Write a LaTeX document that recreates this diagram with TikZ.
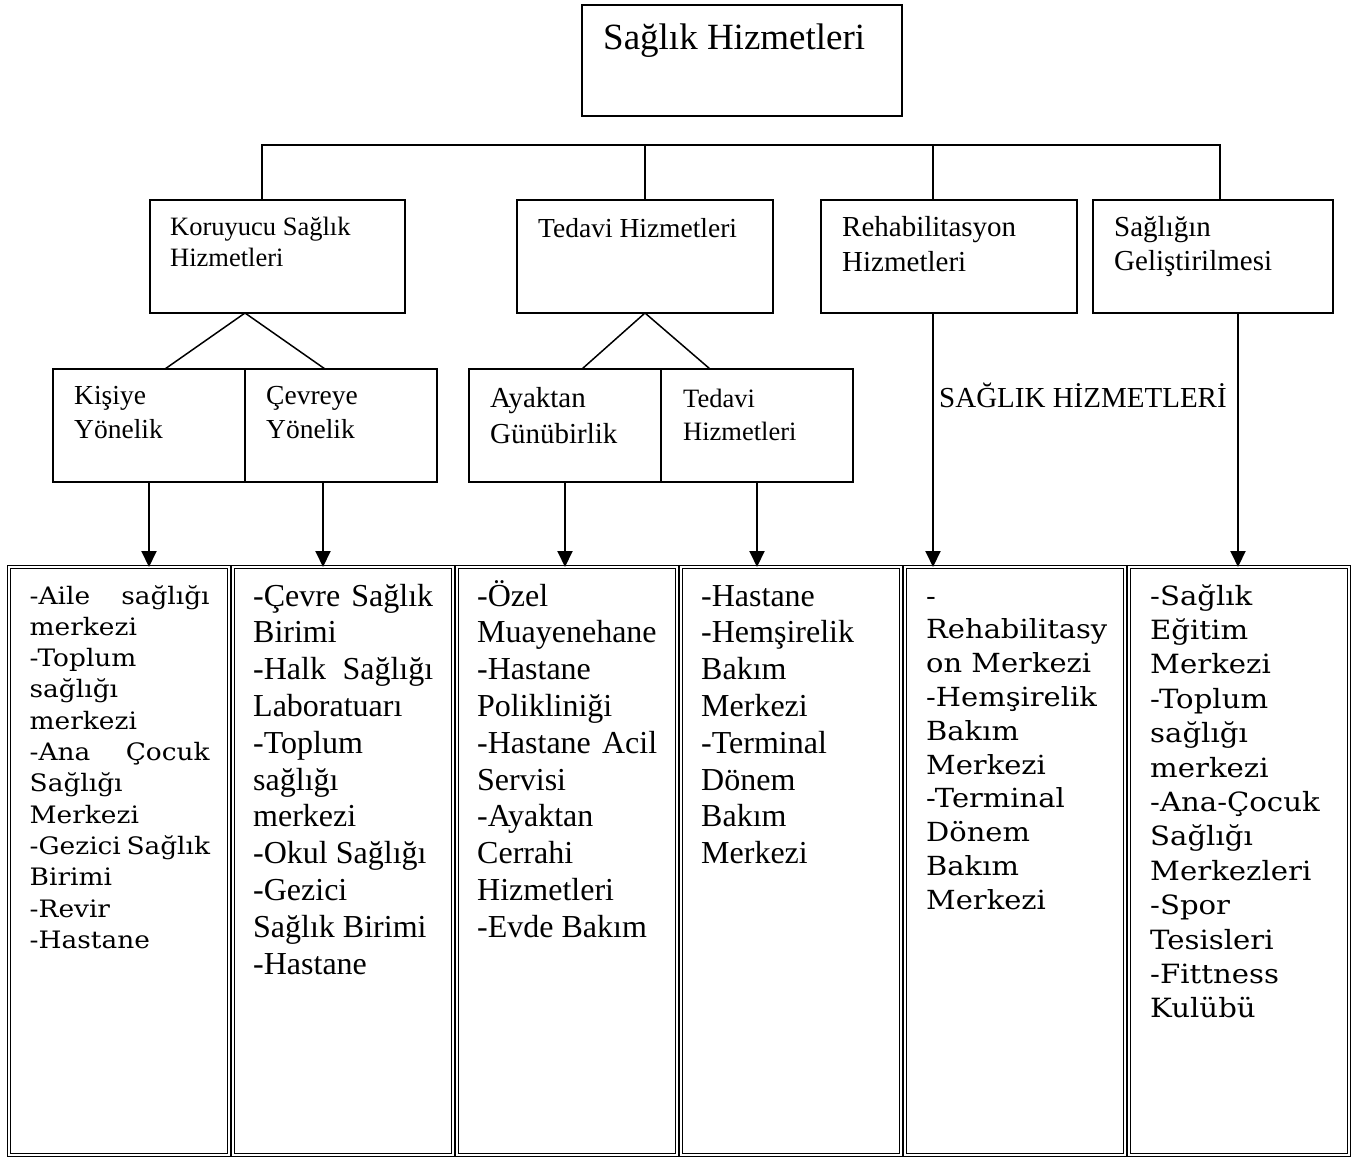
\documentclass[tikz,border=0pt]{standalone}
\usepackage{fontspec}
\setmainfont{Liberation Serif}
\newfontfamily\bookfont[FakeStretch=1.1]{DejaVu Serif}
\usetikzlibrary{arrows.meta,positioning}

\tikzset{
  box/.style={draw,line width=1.8pt,outer sep=0pt,inner sep=0pt,anchor=north west},
  cell/.style={draw,double,line width=0.9pt,double distance=1.6pt,outer sep=0pt,inner sep=0pt,
    anchor=north west,minimum width=220pt,minimum height=588pt},
  txt/.style={anchor=base west,inner sep=0pt,align=left},% base = last line
  link/.style={line width=1.8pt},
  leg/.style={line width=1.5pt},
  down/.style={line width=2pt,-{Triangle[width=15pt,length=16pt]}}
}

\begin{document}
\begin{tikzpicture}[x=1pt,y=-1pt]
  \useasboundingbox (0,0) rectangle (1357,1158);

  % top
  \node (root) [box,minimum width=320pt,minimum height=111pt] at (582,5) {};
  \node (rootT) [txt,font=\fontsize{37}{44}\selectfont] at ([shift={(21,45)}]root.north west) {Sağlık Hizmetleri};

  % second row
  \node (kor) [box,minimum width=255pt,minimum height=113pt] at (150,200) {};
  \node (ted) [box,minimum width=256pt,minimum height=113pt] at (517,200) {};
  \node (reh) [box,minimum width=256pt,minimum height=113pt] at (821,200) {};
  \node (gel) [box,minimum width=240pt,minimum height=113pt] at (1093,200) {};
  \node (korT) [txt,font=\fontsize{26.5}{32}\selectfont] at ([shift={(20,67)}]kor.north west) {Koruyucu Sağlık\\Hizmetleri};
  \node (tedT) [txt,font=\fontsize{27.5}{32}\selectfont] at ([shift={(21,38)}]ted.north west) {Tedavi Hizmetleri};
  \node (rehT) [txt,font=\fontsize{29}{35}\selectfont] at ([shift={(21,72)}]reh.north west) {Rehabilitasyon\\Hizmetleri};
  \node (gelT) [txt,font=\fontsize{29}{34}\selectfont] at ([shift={(21,71)}]gel.north west) {Sağlığın\\Geliştirilmesi};

  \coordinate (bus1) at (262,145);
  \coordinate (bus2) at (645,145);
  \coordinate (bus3) at (933,145);
  \coordinate (bus4) at (1220,145);
  \draw[link] (bus1 |- kor.north) -- (bus1) -- (bus4) -- (bus4 |- gel.north);
  \draw[link] (bus2) -- (ted.north);
  \draw[link] (bus3) -- (bus3 |- reh.north);

  % third row
  \node (kis) [box,minimum width=192pt,minimum height=113pt] at (53,369) {};
  \node (cev) [box,minimum width=192pt,minimum height=113pt] at (245,369) {};
  \node (aya) [box,minimum width=192pt,minimum height=113pt] at (469,369) {};
  \node (ted2) [box,minimum width=192pt,minimum height=113pt] at (661,369) {};
  \node (kisT) [txt,font=\fontsize{27.5}{34}\selectfont] at ([shift={(21,69)}]kis.north west) {Kişiye\\Yönelik};
  \node (cevT) [txt,font=\fontsize{27.5}{34}\selectfont] at ([shift={(21,69)}]cev.north west) {Çevreye\\Yönelik};
  \node (ayaT) [txt,font=\fontsize{29}{36}\selectfont] at ([shift={(21,74)}]aya.north west) {Ayaktan\\Günübirlik};
  \node (ted2T) [txt,font=\fontsize{26.5}{33}\selectfont] at ([shift={(22,71)}]ted2.north west) {Tedavi\\Hizmetleri};
  \node (shT) [txt,font=\fontsize{29}{34}\selectfont] at (939,407) {SAĞLIK HİZMETLERİ};

  \draw[leg] ([xshift=16pt]kis.north) -- (kis.north east |- kor.south) -- ([xshift=-16pt]cev.north);
  \draw[leg] ([xshift=17pt]aya.north) -- (ted.south) -- ([xshift=-47pt]ted2.north);

  % bottom row
  \node (c1) [cell] at (9,567) {};
  \node (c2) [cell] at (233,567) {};
  \node (c3) [cell] at (457,567) {};
  \node (c4) [cell] at (681,567) {};
  \node (c5) [cell] at (905,567) {};
  \node (c6) [cell] at (1129,567) {};

  \draw[down] (kis.south) -- (kis.south |- c1.north);
  \draw[down] ([xshift=-18pt]cev.south) -- ([xshift=-18pt]cev.south |- c2.north);
  \draw[down] (aya.south) -- (aya.south |- c3.north);
  \draw[down] (ted2.south) -- (ted2.south |- c4.north);
  \draw[down] (bus3 |- reh.south) -- (bus3 |- c5.north);
  \draw[down] ([xshift=25pt]gel.south) -- ([xshift=25pt]gel.south |- c6.north);

  \node (c1T) [txt,font=\bookfont\fontsize{24}{31.3}\selectfont] at ([shift={(20.5,381.3)}]c1.north west)
    {\makebox[180pt][s]{-Aile sağlığı}\\merkezi\\-Toplum\\sağlığı\\merkezi\\\makebox[180pt][s]{-Ana Çocuk}\\Sağlığı\\Merkezi\\\makebox[180pt][s]{-Gezici Sağlık}\\Birimi\\-Revir\\-Hastane};
  \node (c2T) [txt,font=\fontsize{32}{36.8}\selectfont] at ([shift={(20,407)}]c2.north west)
    {\makebox[180pt][s]{-Çevre Sağlık}\\Birimi\\\makebox[180pt][s]{-Halk Sağlığı}\\Laboratuarı\\-Toplum\\sağlığı\\merkezi\\-Okul Sağlığı\\-Gezici\\Sağlık Birimi\\-Hastane};
  \node (c3T) [txt,font=\fontsize{32}{36.8}\selectfont] at ([shift={(20,370.2)}]c3.north west)
    {-Özel\\Muayenehane\\-Hastane\\Polikliniği\\\makebox[180pt][s]{-Hastane Acil}\\Servisi\\-Ayaktan\\Cerrahi\\Hizmetleri\\-Evde Bakım};
  \node (c4T) [txt,font=\fontsize{32}{36.8}\selectfont] at ([shift={(20,296.6)}]c4.north west)
    {-Hastane\\-Hemşirelik\\Bakım\\Merkezi\\-Terminal\\Dönem\\Bakım\\Merkezi};
  \node (c5T) [txt,font=\bookfont\fontsize{26.3}{33.8}\selectfont] at ([shift={(21,342.2)}]c5.north west)
    {-\\Rehabilitasy\\on Merkezi\\-Hemşirelik\\Bakım\\Merkezi\\-Terminal\\Dönem\\Bakım\\Merkezi};
  \node (c6T) [txt,font=\bookfont\fontsize{26.5}{34.4}\selectfont] at ([shift={(21,450.8)}]c6.north west)
    {-Sağlık\\Eğitim\\Merkezi\\-Toplum\\sağlığı\\merkezi\\-Ana-Çocuk\\Sağlığı\\Merkezleri\\-Spor\\Tesisleri\\-Fittness\\Kulübü};
\end{tikzpicture}
\end{document}
